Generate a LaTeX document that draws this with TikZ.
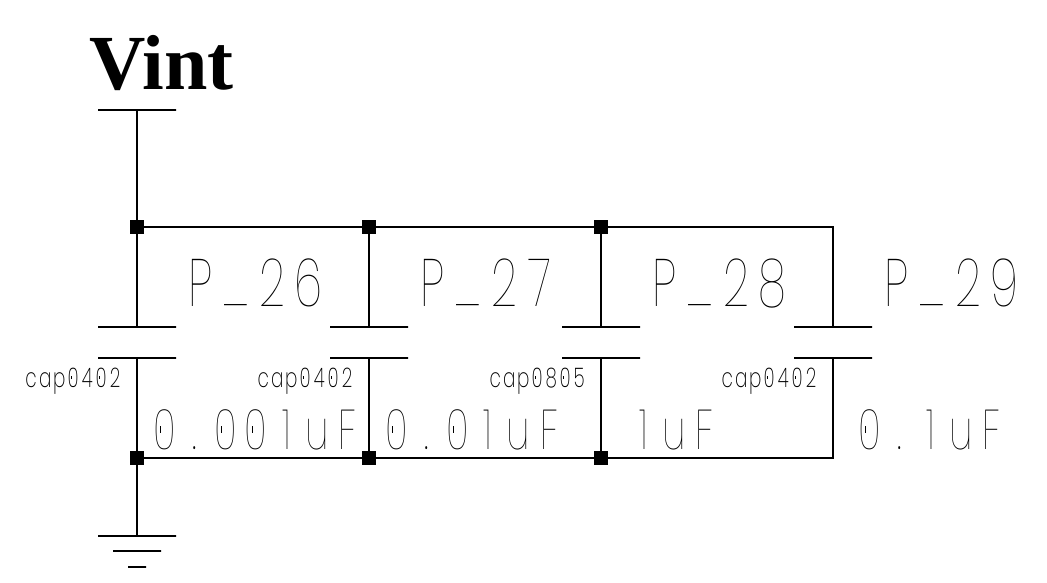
\documentclass[tikz,border=0pt]{standalone}
\usepackage{fontspec}
\usepackage{graphicx}
\setmainfont{Liberation Serif}
\newfontfamily\cadfont[FakeStretch=.68]{Poppins Thin}
\newfontfamily\cadsmall[FakeStretch=.68]{Poppins ExtraLight}
\makeatletter
% one box per character, as the plotter spaces them
\def\cad@zero{0}
\def\cad@under{\_}
\def\cad@char{%
\ifx\cad@c\cad@zero
0\llap{\makebox[\cad@w][c]{\rule[.29em]{.7pt}{.12em}}}%
\else\ifx\cad@c\cad@under
\raisebox{.05em}{\scalebox{1.1}[1]{\_}}%
\else\cad@c\fi\fi}
\def\cad@go#1{\@tfor\cad@c:=#1\do{\makebox[\cad@w][c]{\cad@char}}}
\newcommand{\cadtext}[2]{\def\cad@w{#1}\expandafter\cad@go\expandafter{#2}}
\makeatother
\tikzset{
wire/.style={line width=2pt},
junction/.style={rectangle,fill=black,minimum size=14pt,inner sep=0pt,outer sep=0pt},
plate/.style={rectangle,draw,line width=2pt,minimum width=78pt,minimum height=0pt,inner sep=0pt,outer sep=0pt},
pinlabel/.style={anchor=base west,inner sep=0pt,font=\cadfont\fontsize{67pt}{67pt}\selectfont},
footprint/.style={anchor=base west,inner sep=0pt,font=\cadsmall\fontsize{27pt}{27pt}\selectfont},
capvalue/.style={anchor=base west,inner sep=0pt,font=\cadfont\fontsize{56pt}{56pt}\selectfont}
}
\begin{document}
\begin{tikzpicture}[x=1pt,y=-1pt]
\useasboundingbox (0,0) rectangle (1047,583);
\node[anchor=base west,inner sep=0pt,font=\bfseries\fontsize{78pt}{78pt}\selectfont] (vint) at (89,90) {Vint};
\node[plate] (vplate) at (137,110) {};
%%%%
\foreach \n/\x in {1/137,2/369,3/601,4/833} {
\node[plate] (top\n) at (\x,327) {};
\node[plate] (bot\n) at (\x,358) {};
}
\foreach \n/\x in {1/137,2/369,3/601} {
\node[junction] (a\n) at (\x,227) {};
\node[junction] (b\n) at (\x,458) {};
}
\coordinate (a4) at (833,227);
\coordinate (b4) at (833,458);
%%%%
\draw[wire] (vplate) -- (a1);
\draw[wire] (a1) -- (a2);
\draw[wire] (a2) -- (a3);
\draw[wire] (a3) -- (a4) -- (top4);
\draw[wire] (bot4) -- (b4) -- (b3);
\draw[wire] (b3) -- (b2);
\draw[wire] (b2) -- (b1);
\foreach \n in {1,2,3} {
\draw[wire] (a\n) -- (top\n);
\draw[wire] (bot\n) -- (b\n);
}
%%%%
\node[plate] (gnd1) at (137,536) {};
\node[plate,minimum width=48pt] (gnd2) at (137,551) {};
\node[plate,minimum width=18pt] (gnd3) at (137,567) {};
\draw[wire] (b1) -- (gnd1);
%%%%
\foreach \n/\x/\t in {26/189/P\_26,27/421/P\_27,28/653/P\_28,29/885/P\_29}
\node[pinlabel] (pin\n) at (\x-7,306) {\cadtext{36pt}{\t}};
\foreach \n/\x/\t in {1/25/cap0402,2/257/cap0402,3/489/cap0805,4/721/cap0402}
\node[footprint] (foot\n) at (\x-1,387) {\cadtext{14pt}{\t}};
\foreach \n/\x/\t in {1/155/0.001uF,2/387/0.01uF,3/634/1uF,4/860/0.1uF}
\node[capvalue] (val\n) at (\x-6,449) {\cadtext{30.5pt}{\t}};
\end{tikzpicture}
\end{document}
